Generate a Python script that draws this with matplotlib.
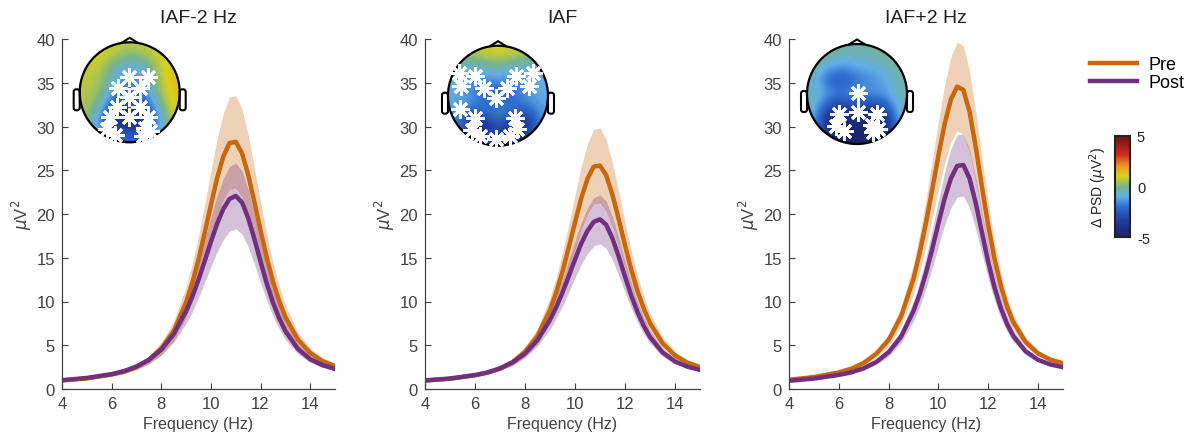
import numpy as np
import matplotlib
matplotlib.use('Agg')
import matplotlib.pyplot as plt
from matplotlib.colors import LinearSegmentedColormap
from matplotlib.patches import Circle, Polygon, FancyBboxPatch
from matplotlib.lines import Line2D

plt.rcParams['font.family'] = ['Liberation Sans', 'DejaVu Sans']
plt.rcParams['axes.unicode_minus'] = False

# ---- spectra ----
freq = [4, 5, 6, 6.5, 7, 7.5, 8, 8.5, 9, 9.25, 9.5, 9.75, 10, 10.25, 10.5, 10.75,
        11, 11.25, 11.5, 11.75, 12, 12.25, 12.5, 12.75, 13, 13.5, 14, 14.5, 15]

pre_m2 = [0.98, 1.21, 1.65, 1.97, 2.49, 3.32, 4.61, 6.62, 9.92, 12.14, 14.79, 17.83, 21.02, 24.09, 26.57, 28.11,
          28.25, 26.97, 24.51, 21.40, 18.12, 15.01, 12.30, 10.06, 8.23, 5.67, 4.12, 3.19, 2.63]
pre_m2_sem = [0.04, 0.08, 0.15, 0.21, 0.30, 0.46, 0.71, 1.09, 1.73, 2.16, 2.67, 3.26, 3.88, 4.48, 4.96, 5.26,
              5.28, 5.03, 4.55, 3.94, 3.29, 2.68, 2.15, 1.71, 1.35, 0.85, 0.54, 0.35, 0.24]
post_m2 = [1.01, 1.26, 1.70, 2.05, 2.57, 3.33, 4.50, 6.27, 8.89, 10.56, 12.49, 14.62, 16.81, 18.89, 20.58, 21.72,
           22.07, 21.34, 19.55, 17.17, 14.56, 12.06, 9.89, 8.09, 6.62, 4.60, 3.41, 2.72, 2.29]
post_m2_sem = [0.05, 0.08, 0.15, 0.21, 0.30, 0.43, 0.63, 0.95, 1.41, 1.71, 2.05, 2.43, 2.83, 3.20, 3.50, 3.70,
               3.76, 3.63, 3.30, 2.87, 2.40, 1.95, 1.55, 1.23, 0.96, 0.59, 0.37, 0.24, 0.16]

pre_0 = [0.96, 1.17, 1.57, 1.86, 2.33, 3.08, 4.25, 6.06, 9.03, 11.03, 13.42, 16.16, 19.03, 21.79, 24.03, 25.42,
         25.54, 24.40, 22.18, 19.38, 16.43, 13.63, 11.20, 9.19, 7.54, 5.24, 3.84, 3.01, 2.51]
pre_0_sem = [0.04, 0.06, 0.12, 0.17, 0.25, 0.37, 0.57, 0.88, 1.40, 1.75, 2.17, 2.64, 3.15, 3.63, 4.02, 4.26,
             4.28, 4.07, 3.68, 3.19, 2.67, 2.17, 1.74, 1.39, 1.10, 0.69, 0.44, 0.29, 0.19]
post_0 = [0.98, 1.20, 1.59, 1.90, 2.36, 3.03, 4.05, 5.60, 7.89, 9.35, 11.03, 12.89, 14.80, 16.63, 18.09, 19.10,
          19.39, 18.76, 17.20, 15.13, 12.85, 10.68, 8.79, 7.22, 5.94, 4.18, 3.15, 2.55, 2.18]
post_0_sem = [0.03, 0.06, 0.11, 0.15, 0.22, 0.32, 0.47, 0.70, 1.05, 1.27, 1.53, 1.81, 2.10, 2.38, 2.60, 2.76,
              2.80, 2.70, 2.46, 2.14, 1.79, 1.45, 1.16, 0.91, 0.71, 0.44, 0.28, 0.18, 0.12]

pre_p2 = [1.06, 1.36, 1.90, 2.32, 2.98, 4.02, 5.60, 8.30, 12.60, 15.60, 19.00, 22.80, 26.70, 30.30, 33.10, 34.56,
          34.19, 31.67, 27.60, 23.03, 18.66, 14.85, 11.83, 9.45, 7.66, 5.37, 4.07, 3.35, 2.95]
pre_p2_sem = [0.05, 0.08, 0.15, 0.20, 0.30, 0.45, 0.68, 1.08, 1.74, 2.19, 2.71, 3.29, 3.89, 4.44, 4.86, 5.08,
              5.02, 4.63, 4.00, 3.29, 2.61, 2.02, 1.55, 1.18, 0.90, 0.54, 0.33, 0.21, 0.14]
post_p2 = [0.94, 1.19, 1.61, 1.90, 2.37, 3.08, 4.21, 5.99, 8.93, 10.88, 13.28, 16.00, 18.94, 21.79, 24.07, 25.49,
           25.60, 24.05, 21.21, 17.84, 14.50, 11.62, 9.28, 7.46, 6.07, 4.30, 3.33, 2.80, 2.49]
post_p2_sem = [0.03, 0.05, 0.10, 0.13, 0.20, 0.29, 0.45, 0.71, 1.14, 1.42, 1.77, 2.17, 2.60, 3.02, 3.36, 3.56,
               3.57, 3.34, 2.92, 2.41, 1.92, 1.49, 1.14, 0.86, 0.65, 0.38, 0.23, 0.15, 0.09]

titles = ['IAF-2 Hz', 'IAF', 'IAF+2 Hz']

# ---- topographies (delta PSD): coarse grids, front row first, left to right ----
topo_m2 = [[1.0, 1.0, 0.8, 0.6, 0.8, 1.0, 1.2],
           [0.9, 0.7, 0.0, -0.8, -0.3, 0.7, 1.3],
           [0.7, 0.5, -1.0, -1.8, -1.2, 0.5, 1.4],
           [0.6, 0.3, -1.5, -2.0, -1.5, 0.2, 1.4],
           [0.6, -0.5, -3.5, -3.0, -3.0, -0.5, 1.2],
           [0.4, -2.0, -4.8, -4.5, -4.5, -1.5, 0.8],
           [0.2, -1.0, -2.0, -2.5, -2.0, -0.8, 0.4]]
topo_0 = [[0.3, 0.6, 0.9, 1.0, 0.9, 0.6, 0.3],
          [-0.7, -0.8, -0.6, -0.3, -0.6, -0.8, -0.7],
          [-1.0, -1.5, -1.8, -1.5, -1.8, -1.5, -1.0],
          [-1.0, -1.2, -2.2, -2.8, -2.2, -1.2, -1.0],
          [-1.2, -2.0, -1.8, -1.2, -1.8, -2.5, -1.2],
          [-1.5, -4.0, -4.5, -2.5, -4.2, -4.5, -1.5],
          [-1.5, -3.0, -3.5, -3.2, -3.5, -3.0, -1.5]]
topo_p2 = [[0.2, 0.0, -0.3, -0.4, -0.3, 0.0, 0.3],
           [-0.2, -0.9, -1.3, -1.0, -0.8, -0.6, 0.0],
           [-0.6, -2.5, -2.8, -2.0, -1.6, -1.2, -0.4],
           [-0.5, -1.2, -1.5, -1.3, -1.3, -1.2, -0.4],
           [-0.6, -3.2, -4.0, -3.0, -3.8, -3.0, -0.5],
           [-1.0, -4.8, -5.0, -4.6, -5.0, -4.8, -0.8],
           [-1.2, -4.0, -4.8, -4.8, -4.8, -4.0, -1.0]]

# significant electrodes (head-relative coords, radius 1)
sig_m2_x = [-0.01, 0.37, -0.23, 0.20, -0.01, -0.25, 0.20, -0.40, -0.01, 0.37, -0.45, -0.30, 0.30, 0.40, 0.27]
sig_m2_y = [0.30, 0.31, 0.08, 0.08, -0.10, -0.30, -0.30, -0.50, -0.50, -0.50, -0.73, -0.85, -0.72, -0.77, -0.87]
sig_0_x = [-0.78, -0.45, 0.36, 0.70, -0.75, -0.28, 0.18, 0.63, -0.04, -0.77, -0.45, 0.35, -0.51, -0.35, -0.04, 0.25, 0.38]
sig_0_y = [0.46, 0.39, 0.40, 0.46, 0.19, 0.16, 0.16, 0.19, -0.05, -0.26, -0.45, -0.45, -0.68, -0.81, -0.86, -0.81, -0.67]
sig_p2_x = [0.01, -0.37, 0.01, 0.39, -0.42, -0.26, 0.29, 0.42, 0.31]
sig_p2_y = [0.03, -0.40, -0.36, -0.40, -0.64, -0.75, -0.63, -0.70, -0.77]

PRE_COLOR = '#C8680E'
POST_COLOR = '#71307F'
AX_COLOR = '#404040'

psd_cmap = LinearSegmentedColormap.from_list('psd', [
    (0.0, '#1c2466'), (0.15, '#203a9a'), (0.3, '#2f6fd0'), (0.4, '#62aee6'),
    (0.5, '#79b48a'), (0.6, '#d8d21c'), (0.7, '#f09a1e'), (0.82, '#cf2a22'),
    (1.0, '#6a1414')])

W, H = 1189, 439
fig = plt.figure(figsize=(W / 100, H / 100), dpi=100)

panel_left = [62, 425, 789]
panel_w = [273, 275, 274]
head_centers = [(129.7, 93.3), (498, 96.7), (857, 95)]

series = [(pre_m2, pre_m2_sem, post_m2, post_m2_sem),
          (pre_0, pre_0_sem, post_0, post_0_sem),
          (pre_p2, pre_p2_sem, post_p2, post_p2_sem)]
topos = [topo_m2, topo_0, topo_p2]
sigs = [(sig_m2_x, sig_m2_y), (sig_0_x, sig_0_y), (sig_p2_x, sig_p2_y)]

f = np.array(freq)
im = None
for i in range(3):
    ax = fig.add_axes([panel_left[i] / W, (H - 390) / H, panel_w[i] / W, 350 / H])
    pre, pre_s, post, post_s = [np.array(a) for a in series[i]]
    ax.fill_between(f, pre - pre_s, pre + pre_s, color=PRE_COLOR, alpha=0.3, lw=0)
    ax.fill_between(f, post - post_s, post + post_s, color=POST_COLOR, alpha=0.3, lw=0)
    ax.plot(f, pre, color=PRE_COLOR, lw=3.2, solid_joinstyle='round')
    ax.plot(f, post, color=POST_COLOR, lw=3.2, solid_joinstyle='round')

    ax.set_xlim(4, 15)
    ax.set_ylim(0, 40)
    ax.set_xticks([4, 6, 8, 10, 12, 14])
    ax.set_yticks(range(0, 41, 5))
    for s in ['top', 'right']:
        ax.spines[s].set_visible(False)
    for s in ['left', 'bottom']:
        ax.spines[s].set_color(AX_COLOR)
        ax.spines[s].set_linewidth(0.9)
    ax.tick_params(direction='in', length=4, width=0.8, colors=AX_COLOR,
                   labelsize=12, pad=5)
    ax.set_xlabel('Frequency (Hz)', fontsize=11.5, color=AX_COLOR, labelpad=4)
    ax.set_ylabel(r'$\mu$V$^2$', fontsize=12, color=AX_COLOR, labelpad=2)
    ax.set_title(titles[i], fontsize=14, color='#202020', pad=12)

    # head inset
    cx, cy = head_centers[i]
    side = 126
    hax = fig.add_axes([(cx - side / 2) / W, (H - cy - side / 2) / H, side / W, side / H])
    hax.set_xlim(-1.26, 1.26)
    hax.set_ylim(-1.26, 1.26)
    hax.set_aspect('equal')
    hax.axis('off')
    im = hax.imshow(np.array(topos[i]), extent=[-1, 1, -1, 1], cmap=psd_cmap,
                    vmin=-5, vmax=5, interpolation='bicubic', zorder=1)
    clip = Circle((0, 0), 1.0, transform=hax.transData)
    im.set_clip_path(clip)
    hax.add_patch(Circle((0, 0), 1.0, fill=False, ec='black', lw=1.6, zorder=3))
    hax.add_patch(Polygon([[-0.17, 0.985], [0, 1.09], [0.17, 0.985]], closed=False,
                          fill=False, ec='black', lw=1.5, zorder=3))
    for sgn in (-1, 1):
        ear = FancyBboxPatch((sgn * 1.0 - (0.12 if sgn < 0 else 0), -0.36), 0.12, 0.42,
                             boxstyle='round,pad=0,rounding_size=0.05',
                             fill=False, ec='black', lw=1.5, zorder=2)
        hax.add_patch(ear)
    sx, sy = sigs[i]
    hax.plot(sx, sy, linestyle='none', marker=(8, 2, 0), markersize=13,
             mew=2.0, color='white', zorder=4)

# legend
handles = [Line2D([0], [0], color=PRE_COLOR, lw=3.2),
           Line2D([0], [0], color=POST_COLOR, lw=3.2)]
fig.legend(handles, ['Pre', 'Post'], loc='upper left', bbox_to_anchor=(1083 / W, 1 - 50 / H),
           frameon=False, fontsize=13, handlelength=2.6, handletextpad=0.6,
           labelspacing=0.05, borderaxespad=0)

# colorbar
cax = fig.add_axes([1115 / W, (H - 238) / H, 15 / W, 101 / H])
cb = fig.colorbar(im, cax=cax, ticks=[-5, 0, 5])
cb.outline.set_linewidth(1.5)
cb.outline.set_edgecolor('#222222')
cax.tick_params(length=0, labelsize=10.5, colors='#222222', pad=5)
cb.set_label(r'$\Delta$ PSD ($\mu$V$^2$)', fontsize=10, color='#222222', labelpad=4)
cax.yaxis.set_label_position('left')

fig.savefig('out.png', dpi=100)
